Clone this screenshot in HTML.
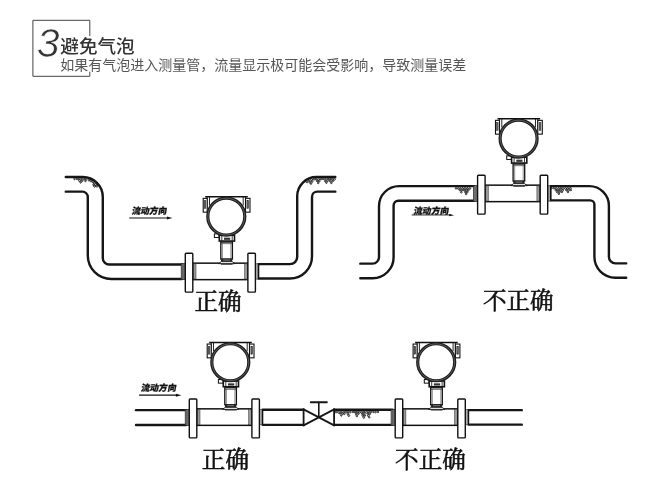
<!DOCTYPE html>
<html lang="zh-CN">
<head>
<meta charset="utf-8">
<title>避免气泡</title>
<style>
html,body{margin:0;padding:0;background:#fff;}
body{width:651px;height:493px;overflow:hidden;}
svg{display:block;filter:blur(0.45px);}
text{font-family:"Liberation Sans","Noto Sans CJK SC",sans-serif;}
.num{font-family:"Liberation Sans",sans-serif;font-style:italic;font-size:41px;fill:#333;stroke:#fff;stroke-width:0.7px;}
.title{font-size:18.6px;fill:#333;font-weight:500;}
.sub{font-size:14px;fill:#555;}
.flow{font-size:8.8px;font-weight:900;fill:#111;stroke:#111;stroke-width:0.25px;}
.lbl{font-family:"Liberation Serif","Noto Serif CJK SC",serif;font-size:23.6px;font-weight:400;fill:#111;stroke:#111;stroke-width:0.6px;text-anchor:middle;}
</style>
</head>
<body>
<svg width="651" height="493" viewBox="0 0 651 493">
<defs>
<g id="meter">
  <!-- pipe collars outside flanges -->
  <rect x="181.2" y="263.2" width="4" height="16" fill="#8a8a8a" stroke="#222" stroke-width="0.7"/>
  <path d="M182.6,263.4 V279 M183.9,263.4 V279" stroke="#333" stroke-width="0.5"/>
  <rect x="255.6" y="263.4" width="2.8" height="15.2" fill="#d8d8d8" stroke="#222" stroke-width="0.6"/>
  <path d="M257,263.4 V278.6" stroke="#555" stroke-width="0.5"/>
  <path d="M258.5,263.4 V278.4" stroke="#111" stroke-width="1.6"/>
  <!-- body -->
  <rect x="192.6" y="262.7" width="55.2" height="16.5" fill="#fff" stroke="#111" stroke-width="1.5"/>
  <rect x="193.4" y="263.4" width="2.6" height="15.2" fill="#999" stroke="#333" stroke-width="0.5"/>
  <rect x="244.6" y="263.4" width="2.8" height="15.2" fill="#999" stroke="#333" stroke-width="0.5"/>
  <!-- flanges -->
  <rect x="185.3" y="252.8" width="7.5" height="38.9" rx="0.8" fill="#fff" stroke="#111" stroke-width="1.4"/>
  <rect x="247.9" y="252.8" width="7.5" height="38.9" rx="0.8" fill="#fff" stroke="#111" stroke-width="1.4"/>
  <!-- stem -->
  <rect x="220.8" y="241.6" width="11.6" height="17" fill="#fff" stroke="#111" stroke-width="1.3"/>
  <line x1="222.4" y1="243" x2="222.4" y2="258" stroke="#444" stroke-width="0.6"/>
  <line x1="230.9" y1="243" x2="230.9" y2="258" stroke="#444" stroke-width="0.6"/>
  <line x1="221" y1="243.2" x2="232.2" y2="243.2" stroke="#333" stroke-width="0.7"/>
  <rect x="221" y="258.2" width="11.2" height="2.9" fill="#222"/>
  <rect x="223.2" y="259.2" width="6.8" height="0.8" fill="#999"/>
  <path d="M218.6,263.2 L221.2,261.2 H232.2 L235,263.2 Z" fill="#fff" stroke="#111" stroke-width="0.9"/>
  <line x1="221" y1="264" x2="232.6" y2="264" stroke="#333" stroke-width="0.8"/>
  <!-- neck -->
  <rect x="214.4" y="233.4" width="4.8" height="3.6" fill="#fff" stroke="#111" stroke-width="1"/>
  <rect x="219.3" y="234.8" width="15.2" height="5.8" fill="#fff" stroke="#111" stroke-width="1.6"/>
  <rect x="224" y="237.2" width="6.2" height="2.2" fill="#333"/>
  <line x1="221.8" y1="235" x2="221.8" y2="240.4" stroke="#222" stroke-width="0.9"/>
  <line x1="232.2" y1="235" x2="232.2" y2="240.4" stroke="#222" stroke-width="0.9"/>
  <!-- housing sides -->
  <path d="M207.2,196.3 V208 M209.5,196.3 V205 M243.2,196.3 V205 M245.5,196.3 V208" fill="none" stroke="#111" stroke-width="0.9"/>
  <!-- ears -->
  <rect x="203.2" y="197.9" width="4" height="13.8" fill="#fff" stroke="#111" stroke-width="1.1"/>
  <rect x="204.2" y="200.2" width="1.6" height="7.8" fill="#666" stroke="#222" stroke-width="0.5"/>
  <rect x="245.5" y="197.9" width="4.5" height="13.8" fill="#fff" stroke="#111" stroke-width="1.1"/>
  <rect x="246.9" y="200.2" width="1.7" height="7.8" fill="#666" stroke="#222" stroke-width="0.5"/>
  <!-- top bar -->
  <line x1="205.2" y1="196.3" x2="247.8" y2="196.3" stroke="#111" stroke-width="1.4"/>
  <!-- head -->
  <circle cx="226.3" cy="216.1" r="18.5" fill="#fff" stroke="#1c1c1c" stroke-width="3.2"/>
  <circle cx="226.3" cy="216.1" r="18.4" fill="none" stroke="#999" stroke-width="0.5"/>
</g>
</defs>
<rect width="651" height="493" fill="#fff"/>

<!-- header box -->
<path d="M89.8,36 V20.3 H32.9 V76.3 H89.8 V71.7" fill="none" stroke="#444" stroke-width="1"/>
<text x="36.8" y="56.5" class="num">3</text>
<text x="60.3" y="52.6" class="title">避免气泡</text>
<text x="60.3" y="69.6" class="sub">如果有气泡进入测量管，流量显示极可能会受影响，导致测量误差</text>

<g transform="translate(0,0.45)">
<!-- ===== left diagram ===== -->
<g fill="none" stroke="#161616" stroke-width="2.4" stroke-linecap="round">
  <path d="M65.8,176.5 H82.8 A20,20 0 0 1 102.8,196.5 V257.7 A6.4,6.4 0 0 0 109.2,264.1 H182"/>
  <path d="M65.8,191.2 H82.4 A5.4,5.4 0 0 1 87.8,196.6 V255 A23.5,23.5 0 0 0 111.3,278.5 H182"/>
  <path d="M258.5,263.7 H290 A7.2,7.2 0 0 0 297.2,256.5 V195.6 A19.2,19.2 0 0 1 316.4,176.6 H335.3"/>
  <path d="M258.5,278.1 H290 A22,22 0 0 0 312,256.1 V196.5 A5.3,5.3 0 0 1 317.3,191.2 H335.3"/>
</g>
<g fill="#f4f4f4" stroke="#000" stroke-width="0.8">
<circle cx="74.5" cy="178.5" r="0.78"/>
<circle cx="77.0" cy="178.5" r="0.81"/>
<circle cx="79.3" cy="178.6" r="0.91"/>
<circle cx="81.5" cy="178.5" r="0.76"/>
<circle cx="83.8" cy="178.5" r="0.94"/>
<circle cx="86.1" cy="178.8" r="0.93"/>
<circle cx="79.5" cy="180.1" r="0.93"/>
<circle cx="82.1" cy="180.3" r="0.84"/>
<circle cx="80.6" cy="182.0" r="0.75"/>
<circle cx="85.4" cy="180.5" r="0.76"/>
<circle cx="88.9" cy="179.7" r="0.86"/>
<circle cx="90.8" cy="180.5" r="0.87"/>
<circle cx="92.6" cy="181.4" r="0.80"/>
<circle cx="94.3" cy="182.6" r="0.95"/>
<circle cx="93.5" cy="184.4" r="0.72"/>
<circle cx="95.6" cy="184.2" r="0.95"/>
<circle cx="94.6" cy="185.9" r="0.90"/>
<circle cx="96.9" cy="185.7" r="0.99"/>
<circle cx="307.0" cy="181.4" r="0.99"/>
<circle cx="309.1" cy="180.1" r="0.77"/>
<circle cx="311.6" cy="179.2" r="0.92"/>
<circle cx="314.0" cy="178.8" r="0.90"/>
<circle cx="316.2" cy="178.6" r="0.86"/>
<circle cx="318.6" cy="178.9" r="1.00"/>
<circle cx="321.0" cy="178.5" r="0.86"/>
<circle cx="323.1" cy="178.5" r="0.76"/>
<circle cx="325.4" cy="178.7" r="0.85"/>
<circle cx="327.8" cy="178.6" r="0.89"/>
<circle cx="329.9" cy="178.5" r="0.83"/>
<circle cx="332.2" cy="178.8" r="1.00"/>
<circle cx="334.4" cy="178.8" r="0.97"/>
<circle cx="309.9" cy="181.7" r="0.93"/>
<circle cx="312.2" cy="181.1" r="0.79"/>
<circle cx="311.0" cy="183.2" r="0.74"/>
<circle cx="317.0" cy="180.4" r="0.82"/>
<circle cx="319.2" cy="180.5" r="0.93"/>
<circle cx="318.2" cy="182.5" r="0.79"/>
<circle cx="325.3" cy="180.6" r="0.82"/>
<circle cx="327.5" cy="180.3" r="0.88"/>
<circle cx="326.4" cy="182.2" r="0.78"/>
<circle cx="330.3" cy="180.6" r="0.93"/>
<circle cx="332.8" cy="180.5" r="0.78"/>
<circle cx="331.4" cy="182.4" r="0.83"/>
</g>
<use href="#meter"/>
<text x="131.5" y="213.2" class="flow" transform="translate(131.5,213.2) skewX(-10) translate(-131.5,-213.2)">流动方向</text>
<line x1="129.2" y1="217.5" x2="168.4" y2="217.5" stroke="#111" stroke-width="1.1"/>
<path d="M172.4,217.5 L166.9,216.0 L166.9,219.0 Z" fill="#111"/>


<!-- ===== right diagram ===== -->
<g fill="none" stroke="#161616" stroke-width="2.4" stroke-linecap="round">
  <path d="M360.3,263.2 H372.5 A6.5,6.5 0 0 0 379,256.7 V205.7 A20,20 0 0 1 399,185.7 H474.5"/>
  <path d="M360.3,277.75 H372.8 A21,21 0 0 0 393.6,256.75 V205 A4.7,4.7 0 0 1 398.3,200.3 H474.5"/>
  <path d="M550.5,185.7 H589.4 A19.5,19.5 0 0 1 608.9,205.2 V256.4 A6.5,6.5 0 0 0 615.4,262.9 H626.2"/>
  <path d="M550.5,199.9 H590.1 A4.3,4.3 0 0 1 594.4,204.2 V256.3 A21,21 0 0 0 615.4,277.3 H626.2"/>
</g>
<g fill="#f4f4f4" stroke="#000" stroke-width="0.8">
<circle cx="456.0" cy="187.9" r="0.81"/>
<circle cx="458.3" cy="188.0" r="0.90"/>
<circle cx="460.4" cy="187.9" r="0.75"/>
<circle cx="462.6" cy="188.0" r="0.81"/>
<circle cx="465.0" cy="188.0" r="0.96"/>
<circle cx="467.4" cy="187.9" r="0.79"/>
<circle cx="469.9" cy="188.0" r="0.88"/>
<circle cx="459.9" cy="189.7" r="0.72"/>
<circle cx="461.9" cy="189.8" r="0.78"/>
<circle cx="461.3" cy="191.8" r="0.82"/>
<circle cx="464.2" cy="189.7" r="0.88"/>
<circle cx="466.2" cy="189.9" r="0.90"/>
<circle cx="468.3" cy="189.6" r="0.92"/>
<circle cx="465.3" cy="191.6" r="0.75"/>
<circle cx="467.2" cy="191.6" r="0.86"/>
<circle cx="466.1" cy="193.5" r="0.80"/>
<circle cx="551.5" cy="187.7" r="0.81"/>
<circle cx="553.8" cy="187.7" r="0.79"/>
<circle cx="556.1" cy="188.1" r="0.98"/>
<circle cx="558.6" cy="187.9" r="0.81"/>
<circle cx="560.8" cy="187.7" r="0.79"/>
<circle cx="563.0" cy="188.1" r="0.98"/>
<circle cx="565.5" cy="187.9" r="0.95"/>
<circle cx="567.8" cy="188.0" r="0.91"/>
<circle cx="570.3" cy="187.9" r="0.97"/>
<circle cx="555.8" cy="189.6" r="0.87"/>
<circle cx="557.9" cy="189.9" r="0.82"/>
<circle cx="560.2" cy="189.6" r="0.92"/>
<circle cx="562.5" cy="189.9" r="0.93"/>
<circle cx="557.4" cy="191.6" r="0.91"/>
<circle cx="559.5" cy="191.5" r="0.85"/>
<circle cx="561.9" cy="191.4" r="0.78"/>
<circle cx="558.9" cy="193.4" r="0.71"/>
<circle cx="566.4" cy="189.6" r="0.83"/>
<circle cx="568.5" cy="189.7" r="0.95"/>
<circle cx="570.8" cy="189.6" r="0.75"/>
<circle cx="567.9" cy="191.5" r="0.79"/>
</g>
<use href="#meter" transform="translate(292.3,-78.0)"/>
<text x="413.3" y="213.2" class="flow" transform="translate(413.3,213.2) skewX(-10) translate(-413.3,-213.2)">流动方向</text>
<line x1="411.7" y1="214.5" x2="451.2" y2="214.5" stroke="#111" stroke-width="0.9"/>
<path d="M454.2,214.8 L449.2,213.5 L449.2,215.9 Z" fill="#111"/>


<!-- ===== bottom diagram ===== -->
<g fill="none" stroke="#161616" stroke-width="2.4" stroke-linecap="round">
  <path d="M136,409.7 H186"/>
  <path d="M136,424.6 H186"/>
  <path d="M262.6,409.3 H303.6"/>
  <path d="M262.6,424.4 H303.6"/>
  <path d="M334.1,409.3 H392.6"/>
  <path d="M334.1,424.4 H392.6"/>
  <path d="M468.6,409.7 H521.8"/>
  <path d="M468.6,424.2 H521.8"/>
  <!-- valve -->
  <path d="M303.6,408.8 V425 M334.1,408.8 V425" stroke-width="1.8"/>
  <path d="M303.6,408.9 L334.1,424.9 M303.6,424.9 L334.1,408.9" stroke-width="1.8"/>
  <path d="M318.8,416.8 V402" stroke-width="1.6"/>
  <path d="M310.8,401.9 H326.8" stroke-width="2"/>
</g>
<g fill="#f4f4f4" stroke="#000" stroke-width="0.8">
<circle cx="336.0" cy="411.6" r="0.91"/>
<circle cx="338.5" cy="411.7" r="0.99"/>
<circle cx="341.1" cy="411.4" r="0.76"/>
<circle cx="343.6" cy="411.7" r="0.91"/>
<circle cx="345.8" cy="411.4" r="0.87"/>
<circle cx="348.2" cy="411.4" r="0.89"/>
<circle cx="350.4" cy="411.6" r="0.82"/>
<circle cx="352.9" cy="411.5" r="0.79"/>
<circle cx="355.0" cy="411.4" r="0.90"/>
<circle cx="357.1" cy="411.5" r="0.97"/>
<circle cx="359.3" cy="411.8" r="1.00"/>
<circle cx="361.6" cy="411.7" r="0.99"/>
<circle cx="364.0" cy="411.6" r="0.80"/>
<circle cx="366.5" cy="411.8" r="0.99"/>
<circle cx="368.7" cy="411.4" r="0.84"/>
<circle cx="370.9" cy="411.4" r="0.77"/>
<circle cx="373.3" cy="411.5" r="0.75"/>
<circle cx="375.5" cy="411.6" r="0.83"/>
<circle cx="377.9" cy="411.5" r="0.83"/>
<circle cx="340.1" cy="413.1" r="0.71"/>
<circle cx="342.3" cy="413.1" r="0.89"/>
<circle cx="344.3" cy="413.3" r="0.90"/>
<circle cx="341.3" cy="415.1" r="0.70"/>
<circle cx="347.9" cy="413.4" r="0.94"/>
<circle cx="348.8" cy="415.1" r="0.93"/>
<circle cx="356.0" cy="413.4" r="0.79"/>
<circle cx="358.3" cy="413.4" r="0.73"/>
<circle cx="356.8" cy="415.4" r="0.91"/>
<circle cx="362.1" cy="413.3" r="0.72"/>
<circle cx="364.3" cy="413.5" r="0.93"/>
<circle cx="362.8" cy="415.1" r="0.84"/>
<circle cx="364.9" cy="415.1" r="0.74"/>
<circle cx="363.8" cy="417.0" r="0.87"/>
<circle cx="368.0" cy="413.3" r="0.71"/>
<circle cx="369.9" cy="413.3" r="0.80"/>
<circle cx="368.4" cy="415.2" r="0.91"/>
<circle cx="369.3" cy="416.9" r="0.71"/>
</g>
<use href="#meter" transform="translate(4,145.7)"/>
<use href="#meter" transform="translate(209.9,145.7)"/>
<text x="140.8" y="390.8" class="flow" transform="translate(140.8,390.8) skewX(-10) translate(-140.8,-390.8)">流动方向</text>
<line x1="139.1" y1="394.7" x2="177.4" y2="394.7" stroke="#111" stroke-width="1.1"/>
<path d="M181.4,394.7 L175.9,393.2 L175.9,396.2 Z" fill="#111"/>

</g>
<text x="218" y="309.6" class="lbl">正确</text>
<text x="518.3" y="308.8" class="lbl">不正确</text>
<text x="225.4" y="467.7" class="lbl">正确</text>
<text x="430.5" y="467.7" class="lbl">不正确</text>
</svg>
</body>
</html>
